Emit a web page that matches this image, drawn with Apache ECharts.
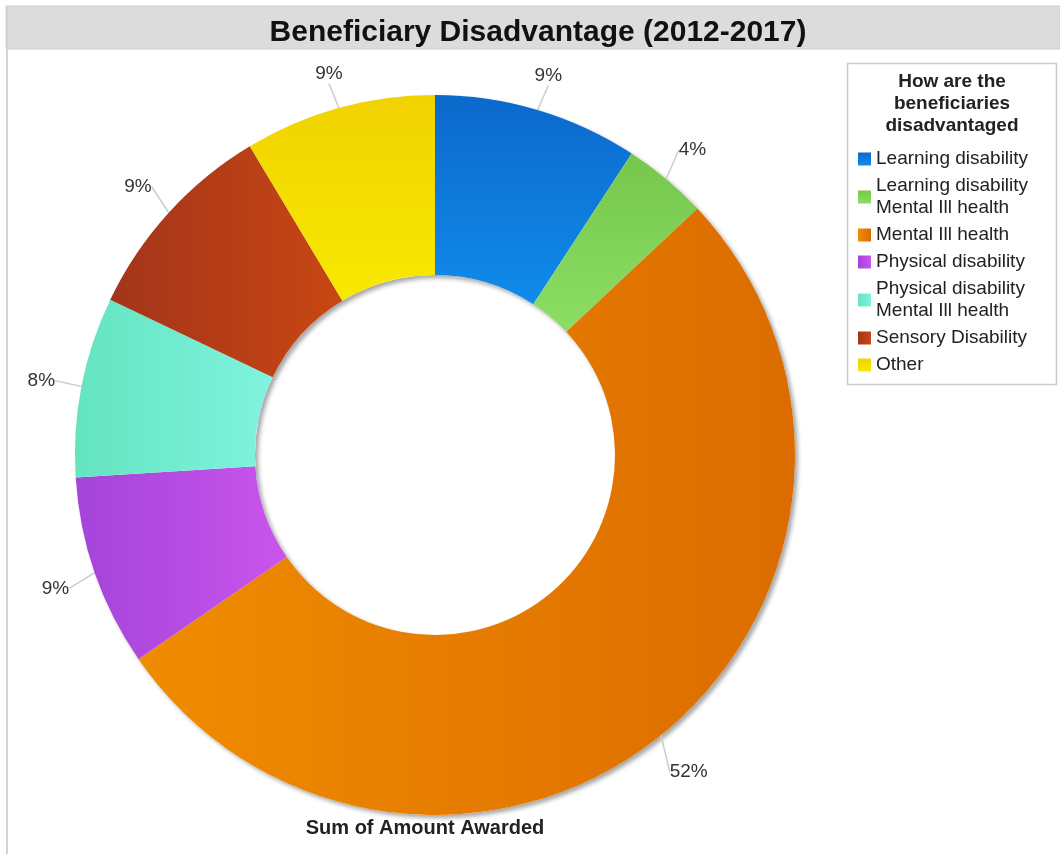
<!DOCTYPE html>
<html>
<head>
<meta charset="utf-8">
<title>Beneficiary Disadvantage</title>
<script src="https://cdn.jsdelivr.net/npm/echarts@6/dist/echarts.min.js"></script>
<style>
  html, body { margin: 0; padding: 0; background: #fff; }
  #main { width: 1060px; height: 854px; }
</style>
</head>
<body>
<div id="main"></div>
<script>
// categories and share of amount awarded (%)
var categories = [
  'Learning disability',
  'Learning disability\nMental Ill health',
  'Mental Ill health',
  'Physical disability',
  'Physical disability\nMental Ill health',
  'Sensory Disability',
  'Other'
];
var amounts = [9.2, 3.8, 52.4, 8.6, 8.1, 9.3, 8.6];

// slice colours: [start, end] of each gradient
var darkColors  = ['#0b69cb', '#76c64e', '#f08c00', '#a444d9', '#63e4bf', '#a3341b', '#f0d200'];
var lightColors = ['#118bea', '#8bde63', '#dc6c00', '#c955ec', '#80f3df', '#c94712', '#f8e900'];
// gradient direction per slice (x2, y2)
var gradDir = [[0, 1], [0, 1], [1, 0], [1, 0], [1, 0], [1, 0], [0, 1]];

var font = 'Liberation Sans, Arial, Helvetica, sans-serif';
var cx = 435, cy = 455;

var chart = echarts.init(document.getElementById('main'));

var pieData = [];
var total = 0;
for (var i = 0; i < categories.length; i++) {
  total += amounts[i];
  pieData.push({
    name: categories[i],
    value: amounts[i],
    itemStyle: {
      color: new echarts.graphic.LinearGradient(0, 0, gradDir[i][0], gradDir[i][1], [
        { offset: 0, color: darkColors[i] },
        { offset: 1, color: lightColors[i] }
      ])
    }
  });
}

var option = {
  backgroundColor: '#fff',
  animation: false,
  color: darkColors,
  title: {
    text: 'Beneficiary Disadvantage (2012-2017)',
    left: 533,
    top: 13,
    textAlign: 'center',
    textStyle: { fontFamily: font, fontSize: 30, fontWeight: 'bold', color: '#111' }
  },
  graphic: [
    // title band
    { type: 'rect', shape: { x: 6, y: 6, width: 1054, height: 43 }, style: { fill: '#dcdcdc', stroke: '#d0d0d0', lineWidth: 1 }, z: -10 },
    // left frame edge
    { type: 'rect', shape: { x: 6, y: 6, width: 2, height: 848 }, style: { fill: '#d3d3d3' }, z: -10 },
    // legend box
    { type: 'rect', shape: { x: 847.5, y: 63.5, width: 209, height: 321 }, style: { fill: '#fff', stroke: '#cccccc', lineWidth: 1.5 }, z: -5 },
    {
      type: 'text', x: 952, y: 71,
      style: {
        text: 'How are the\nbeneficiaries\ndisadvantaged',
        textAlign: 'center',
        textVerticalAlign: 'top',
        fill: '#222',
        font: 'bold 19px ' + font,
        lineHeight: 22
      }
    },
    {
      type: 'text', x: 425, y: 818,
      style: {
        text: 'Sum of Amount Awarded',
        textAlign: 'center',
        textVerticalAlign: 'top',
        fill: '#222',
        font: 'bold 20px ' + font
      }
    }
  ],
  legend: {
    orient: 'vertical',
    left: 858,
    top: 148,
    padding: 0,
    itemWidth: 13,
    itemHeight: 13,
    itemGap: 5,
    icon: 'rect',
    selectedMode: false,
    data: categories,
    textStyle: { fontFamily: font, fontSize: 19, lineHeight: 22, color: '#222' }
  },
  series: [
    {
      // plain ring under the donut, only for its drop shadow
      type: 'pie',
      center: [cx, cy],
      radius: [180, 360],
      silent: true,
      z: 1,
      label: { show: false },
      labelLine: { show: false },
      itemStyle: {
        color: '#fff',
        shadowColor: 'rgba(0,0,0,0.35)',
        shadowBlur: 4,
        shadowOffsetX: 3,
        shadowOffsetY: 3
      },
      data: [{ name: 'shadow', value: total }]
    },
    {
      name: 'Sum of Amount Awarded',
      type: 'pie',
      center: [cx, cy],
      radius: [180, 360],
      startAngle: 90,
      clockwise: true,
      z: 2,
      avoidLabelOverlap: false,
      label: {
        show: true,
        position: 'outside',
        formatter: function (p) { return Math.round(p.percent) + '%'; },
        fontFamily: font,
        fontSize: 19,
        color: '#333'
      },
      labelLine: {
        show: true,
        length: 22,
        length2: 0,
        lineStyle: { color: '#cccccc', width: 1.5 }
      },
      // label sits just past the end of its radial line, centred on it
      labelLayout: function (params) {
        var p = params.labelLinePoints;
        if (!p) return {};
        var dx = p[0][0] - cx, dy = p[0][1] - cy;
        var d = Math.sqrt(dx * dx + dy * dy);
        var ux = dx / d, uy = dy / d;
        var hw = params.labelRect.width / 2, hh = 8;
        var r = 382 + Math.abs(ux) * hw + Math.abs(uy) * hh + 4;
        return {
          x: cx + ux * r,
          y: cy + uy * r + 2,
          align: 'center',
          verticalAlign: 'middle'
        };
      },
      emphasis: { disabled: true },
      data: pieData
    }
  ]
};

chart.setOption(option, true);
</script>
</body>
</html>
